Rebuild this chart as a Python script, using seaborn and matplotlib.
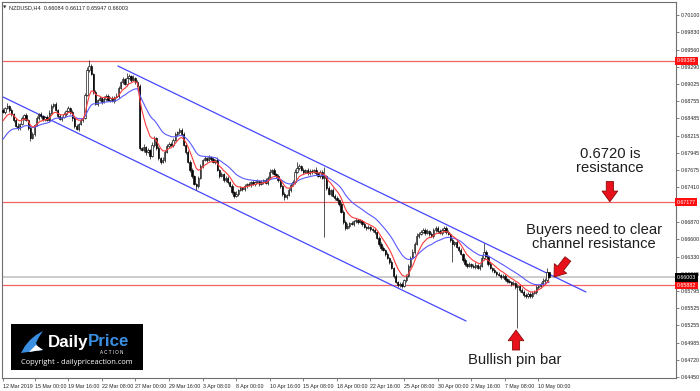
import numpy as np
import pandas as pd
import matplotlib
matplotlib.use('Agg')
import matplotlib.pyplot as plt
import seaborn as sns
from matplotlib.patches import Rectangle, Polygon

# ---------------- data (NZDUSD H4) ----------------
closes = [
    0.6859, 0.6865, 0.6868, 0.6862, 0.6855, 0.6846, 0.6837, 0.6834, 0.6840, 0.6849,
    0.6854, 0.6846, 0.6834, 0.6818, 0.6824, 0.6838, 0.6849, 0.6855, 0.6852, 0.6848,
    0.6851, 0.6846, 0.6857, 0.6868, 0.6871, 0.6862, 0.6852, 0.6848, 0.6851, 0.6855,
    0.6860, 0.6865, 0.6859, 0.6849, 0.6837, 0.6832, 0.6840, 0.6846, 0.6849, 0.6885,
    0.6924, 0.6930, 0.6918, 0.6890, 0.6871, 0.6877, 0.6880, 0.6874, 0.6879, 0.6884,
    0.6877, 0.6880, 0.6876, 0.6882, 0.6884, 0.6896, 0.6905, 0.6910, 0.6902, 0.6912,
    0.6915, 0.6909, 0.6912, 0.6905, 0.6899, 0.6802, 0.6799, 0.6804, 0.6796, 0.6799,
    0.6790, 0.6807, 0.6818, 0.6802, 0.6787, 0.6781, 0.6784, 0.6796, 0.6806, 0.6809,
    0.6807, 0.6815, 0.6824, 0.6827, 0.6831, 0.6824, 0.6807, 0.6796, 0.6781, 0.6768,
    0.6759, 0.6746, 0.6743, 0.6756, 0.6774, 0.6784, 0.6787, 0.6784, 0.6788, 0.6785,
    0.6781, 0.6784, 0.6768, 0.6759, 0.6762, 0.6752, 0.6756, 0.6749, 0.6743, 0.6734,
    0.6728, 0.6731, 0.6737, 0.6740, 0.6738, 0.6743, 0.6746, 0.6745, 0.6749, 0.6746,
    0.6749, 0.6751, 0.6746, 0.6749, 0.6752, 0.6748, 0.6756, 0.6765, 0.6768, 0.6762,
    0.6759, 0.6752, 0.6743, 0.6731, 0.6726, 0.6729, 0.6737, 0.6745, 0.6749, 0.6765,
    0.6771, 0.6774, 0.6768, 0.6765, 0.6768, 0.6763, 0.6767, 0.6765, 0.6768, 0.6763,
    0.6759, 0.6765, 0.6756, 0.6759, 0.6740, 0.6731, 0.6737, 0.6728, 0.6724, 0.6721,
    0.6715, 0.6703, 0.6687, 0.6678, 0.6681, 0.6685, 0.6684, 0.6688, 0.6690, 0.6687,
    0.6688, 0.6684, 0.6679, 0.6678, 0.6679, 0.6676, 0.6674, 0.6671, 0.6662, 0.6653,
    0.6646, 0.6643, 0.6637, 0.6631, 0.6624, 0.6615, 0.6603, 0.6593, 0.6589, 0.6590,
    0.6587, 0.6596, 0.6603, 0.6618, 0.6631, 0.6640, 0.6653, 0.6665, 0.6668, 0.6671,
    0.6674, 0.6670, 0.6673, 0.6668, 0.6665, 0.6674, 0.6678, 0.6673, 0.6670, 0.6674,
    0.6678, 0.6671, 0.6668, 0.6659, 0.6653, 0.6656, 0.6648, 0.6643, 0.6637, 0.6628,
    0.6621, 0.6618, 0.6621, 0.6618, 0.6617, 0.6620, 0.6615, 0.6618, 0.6631, 0.6640,
    0.6634, 0.6621, 0.6615, 0.6612, 0.6609, 0.6606, 0.6604, 0.6601, 0.6603, 0.6598,
    0.6595, 0.6593, 0.6590, 0.6592, 0.6585, 0.6587, 0.6581, 0.6578, 0.6573, 0.6571,
    0.6575, 0.6571, 0.6576, 0.6578, 0.6585, 0.6587, 0.6590, 0.6595, 0.6596, 0.66084,
    0.66003,
]
first_open = 0.6862

# wick lengths beyond the body, in pips
wick_up = [
    3, 2, 4, 2, 3, 2, 3, 4, 2, 3, 2, 3, 2, 4, 3, 2, 3, 2, 3, 2,
    2, 3, 4, 3, 2, 3, 2, 3, 2, 4, 2, 3, 2, 3, 2, 3, 2, 3, 2, 4,
    5, 10, 3, 2, 3, 2, 3, 2, 4, 2, 3, 2, 3, 2, 4, 3, 2, 3, 2, 8,
    3, 2, 4, 2, 3, 3, 2, 4, 2, 3, 2, 4, 3, 2, 3, 2, 4, 3, 2, 3,
    2, 3, 4, 2, 3, 2, 3, 2, 3, 2, 3, 2, 2, 3, 4, 2, 3, 2, 3, 2,
    3, 2, 4, 2, 3, 2, 3, 2, 2, 3, 2, 4, 2, 3, 2, 3, 2, 3, 2, 3,
    2, 3, 2, 3, 2, 4, 3, 4, 2, 3, 2, 3, 2, 2, 3, 2, 3, 2, 3, 4,
    10, 3, 2, 3, 2, 3, 2, 3, 2, 4, 2, 3, 3, 14, 2, 3, 2, 3, 2, 3,
    2, 3, 2, 3, 4, 2, 3, 2, 3, 2, 3, 2, 3, 2, 3, 2, 2, 3, 2, 3,
    2, 3, 2, 3, 2, 3, 2, 3, 2, 4, 3, 2, 3, 4, 3, 4, 3, 5, 3, 4,
    3, 4, 3, 2, 3, 4, 3, 2, 3, 4, 3, 2, 3, 2, 3, 2, 3, 2, 3, 2,
    3, 2, 3, 2, 3, 4, 2, 3, 4, 14, 3, 2, 3, 2, 3, 2, 3, 2, 3, 2,
    2, 3, 2, 3, 2, 3, 2, 3, 2, 3, 2, 3, 3, 2, 3, 2, 3, 4, 3, 6,
    0.3,
]
wick_dn = [
    2, 3, 2, 3, 2, 3, 2, 3, 4, 2, 3, 2, 3, 4, 2, 3, 2, 3, 2, 3,
    3, 2, 3, 2, 3, 2, 3, 2, 3, 2, 3, 2, 3, 4, 3, 2, 3, 2, 3, 2,
    2, 3, 2, 3, 2, 3, 2, 3, 2, 3, 2, 3, 2, 3, 2, 3, 2, 3, 2, 3,
    2, 3, 2, 3, 2, 3, 2, 3, 4, 2, 4, 2, 3, 2, 3, 4, 2, 3, 2, 3,
    2, 3, 2, 3, 2, 3, 2, 3, 2, 3, 3, 2, 6, 3, 2, 3, 2, 3, 2, 3,
    2, 3, 2, 3, 2, 3, 2, 3, 2, 4, 3, 2, 3, 2, 3, 2, 3, 2, 3, 2,
    3, 2, 3, 2, 3, 2, 3, 2, 3, 2, 3, 2, 3, 3, 5, 3, 2, 3, 2, 3,
    2, 3, 2, 3, 2, 3, 2, 3, 2, 3, 2, 3, 2, 93, 3, 2, 3, 2, 3, 2,
    3, 2, 4, 3, 2, 3, 2, 3, 2, 3, 2, 3, 2, 3, 2, 3, 2, 3, 2, 3,
    3, 2, 3, 2, 3, 2, 3, 2, 3, 4, 3, 2, 3, 2, 3, 2, 3, 2, 3, 2,
    2, 3, 2, 3, 2, 3, 2, 3, 2, 3, 2, 3, 2, 3, 29, 3, 2, 3, 2, 3,
    2, 3, 2, 3, 2, 3, 2, 3, 2, 3, 2, 3, 2, 3, 2, 3, 2, 3, 2, 3,
    3, 2, 3, 2, 3, 63, 3, 2, 3, 2, 3, 2, 3, 2, 3, 2, 3, 2, 3, 2,
    0.6,
]

ema_fast_span, ema_fast_start = 8, 0.6841
ema_slow_span, ema_slow_start = 21, 0.6812

xtick_bars = [0, 15, 31, 47, 63, 79, 95, 111, 127, 143, 159, 175, 191, 207, 223, 239, 255]
xtick_labels = ['12 Mar 2019', '15 Mar 00:00', '19 Mar 16:00', '22 Mar 08:00', '27 Mar 00:00',
                '29 Mar 16:00', '3 Apr 08:00', '8 Apr 00:00', '10 Apr 16:00', '15 Apr 08:00',
                '18 Apr 00:00', '22 Apr 16:00', '25 Apr 08:00', '30 Apr 00:00', '2 May 16:00',
                '7 May 08:00', '10 May 00:00']
ytick_values = [0.70100, 0.69830, 0.69560, 0.69290, 0.69025, 0.68755, 0.68485, 0.68215,
                0.67945, 0.67675, 0.67410, 0.67140, 0.66870, 0.66600, 0.66330, 0.66065,
                0.65795, 0.65525, 0.65255, 0.64985, 0.64720, 0.64450]
# tick labels hidden behind the price tags in the reference
hidden_ytick_labels = [0.67140]

level_lines = [0.69385, 0.67177, 0.65882]
last_price = 0.66003
upper_channel_x, upper_channel_y = [54.7, 277.6], [0.69304, 0.65777]
lower_channel_x, lower_channel_y = [0.0, 220.5], [0.68820, 0.65324]

header = 'NZDUSD,H4  0.66084 0.66117 0.65947 0.66003'

# ---------------- figure ----------------
sns.set_style('white')
plt.rcParams['font.family'] = ['Liberation Sans', 'DejaVu Sans']

W, H = 700, 391
fig = plt.figure(figsize=(W / 100, H / 100), dpi=100)
ax = fig.add_axes([2 / W, 13 / H, 674 / W, 376 / H])


def fp(x, y):
    return x / W, 1 - y / H


n = len(closes)
idx = np.arange(n)
c = np.array(closes)
o = np.concatenate([[first_open], c[:-1]])
hi = np.maximum(o, c) + np.array(wick_up) * 1e-4
lo = np.minimum(o, c) - np.array(wick_dn) * 1e-4


def ema(values, span, start):
    s = pd.Series([start] + list(values))
    return s.ewm(span=span, adjust=False).mean().to_numpy()[1:]


fast = ema(closes, ema_fast_span, ema_fast_start)
slow = ema(closes, ema_slow_span, ema_slow_start)

# horizontal levels
ax.axhline(last_price, color='#cccccc', lw=1.4, zorder=0.5)
for v in level_lines:
    ax.axhline(v, color='#f36464', lw=0.9, zorder=1)

# channel
ax.plot(upper_channel_x, upper_channel_y, color='#4646ff', lw=0.9, zorder=1.5)
ax.plot(lower_channel_x, lower_channel_y, color='#4646ff', lw=0.9, zorder=1.5)

# candles
ax.vlines(idx, lo, hi, color='#383838', lw=0.6, zorder=2)
bull = c >= o
body_bot = np.minimum(o, c)
body_h = np.maximum(np.abs(c - o), 0.00003)
ax.bar(idx, body_h, bottom=body_bot, width=0.62,
       color=np.where(bull, 'white', 'black'), edgecolor='black', linewidth=0.45, zorder=3)

# moving averages
sns.lineplot(x=idx, y=slow, ax=ax, color='#5a5aff', lw=0.8, zorder=4)
sns.lineplot(x=idx, y=fast, ax=ax, color='#ff3a3a', lw=0.8, zorder=4)

ax.set_xlim(-0.5, 320.5)
ax.set_ylim(0.64434, 0.70303)

# axes styling
for s in ax.spines.values():
    s.set_color('#6e6e6e')
    s.set_linewidth(0.8)
ax.yaxis.tick_right()
ax.set_yticks(ytick_values)
ax.set_yticklabels(['' if v in hidden_ytick_labels else f'{v:.5f}' for v in ytick_values])
ax.set_xticks(xtick_bars)
ax.set_xticklabels(xtick_labels, ha='left')
ax.tick_params(axis='y', right=True, left=False, labelright=True, labelleft=False,
               length=2, width=0.5, color='#505050', pad=1.2, labelsize=3.8, labelcolor='#222222')
ax.tick_params(axis='x', bottom=True, length=2, width=0.5, color='#505050', pad=2.2,
               labelsize=3.8, labelcolor='#222222')
ax.set_xlabel('')
ax.set_ylabel('')
ax.grid(False)

# price tags
trans = ax.get_yaxis_transform()
for v in level_lines:
    ax.text(1.0012, v, f'{v:.5f}', transform=trans, ha='left', va='center', fontsize=3.8,
            color='white', clip_on=False, zorder=10,
            bbox=dict(boxstyle='square,pad=0.3', fc='#ff1010', ec='none'))
ax.text(1.0012, last_price, f'{last_price:.5f}', transform=trans, ha='left', va='center',
        fontsize=3.8, color='white', clip_on=False, zorder=10,
        bbox=dict(boxstyle='square,pad=0.3', fc='black', ec='none'))

# header
fig.text(*fp(3, 7.5), '▼', fontsize=3.2, color='#333333', va='center', ha='left',
         family=['DejaVu Sans'])
fig.text(*fp(9, 7.5), header, fontsize=4.0, color='#222222', va='center', ha='left')

# annotations
afont = dict(fontsize=10.6, color='#1e1e1e', ha='center', va='center', linespacing=1.08)
fig.text(*fp(610, 161), '0.6720 is\nresistance', **afont)
fig.text(*fp(594, 237), 'Buyers need to clear\nchannel resistance', **afont)
fig.text(*fp(515, 360), 'Bullish pin bar', **afont)

arrow_style = 'simple,head_length=0.385,head_width=0.565,tail_width=0.26'
arrows = [((289.0, 0.67501), (289.0, 0.67185)),
          ((269.0, 0.66292), (262.4, 0.66011)),
          ((244.3, 0.64871), (244.3, 0.65183))]
for tail, tip in arrows:
    ax.annotate('', xy=tip, xytext=tail, xycoords='data', textcoords='data',
                annotation_clip=False,
                arrowprops=dict(arrowstyle=arrow_style, mutation_scale=20, fc='#e8111b',
                                ec='#8a0a0a', lw=0.6, shrinkA=0, shrinkB=0), zorder=12)

# logo
fig.add_artist(Rectangle(fp(11, 370), 132 / W, 46 / H, transform=fig.transFigure,
                         fc='black', ec='none', zorder=20))
swoosh = [(21, 353), (25, 346), (30, 340), (36, 335), (43, 331), (39, 337), (36, 343),
          (38, 347), (43, 350), (35, 351), (28, 352)]
fig.add_artist(Polygon([fp(x, y) for x, y in swoosh], closed=True, transform=fig.transFigure,
                       fc='#3b8fe2', ec='none', zorder=21))
fig.add_artist(Polygon([fp(x, y) for x, y in [(29, 352), (36, 345), (43, 350), (35, 351)]],
                       closed=True, transform=fig.transFigure, fc='white', ec='none', zorder=22))
fig.text(*fp(88, 342), 'Daily', fontsize=12.2, fontweight='bold', color='white',
         ha='right', va='center', zorder=23)
fig.text(*fp(88, 342), 'Price', fontsize=12.2, fontweight='bold', color='#3b8fe2',
         ha='left', va='center', zorder=23)
fig.text(*fp(112, 352.5), 'A C T I O N', fontsize=3.3, color='white', ha='center',
         va='center', zorder=23)
fig.text(*fp(77, 362), 'Copyright - dailypriceaction.com', fontsize=5.4, color='white',
         ha='center', va='center', zorder=23, family=['Open Sans', 'DejaVu Sans'])

fig.savefig('out.png', dpi=100)
